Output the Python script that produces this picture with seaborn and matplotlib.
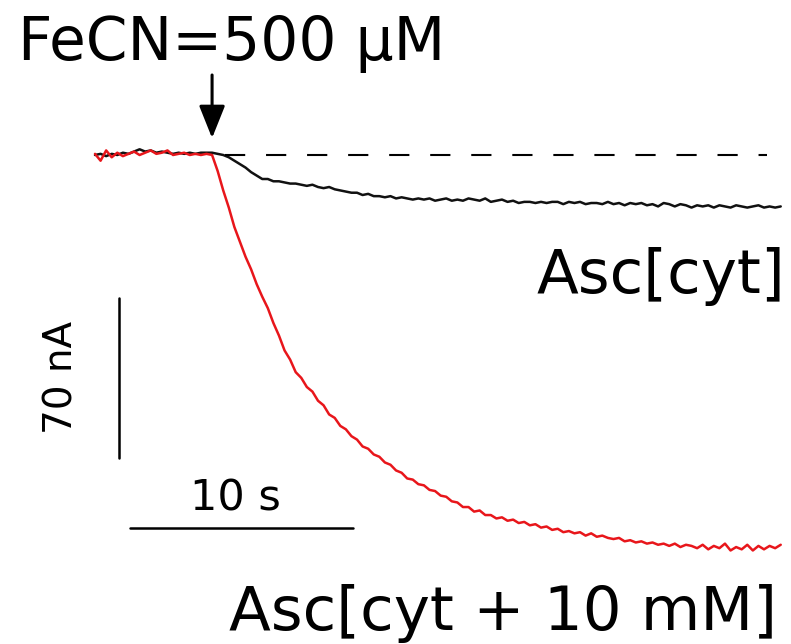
import numpy as np
import pandas as pd
import matplotlib
matplotlib.use("Agg")
import matplotlib.pyplot as plt
import seaborn as sns

# ---------------------------------------------------------------
# data (time in s, current in nA, 0 = baseline)
# ---------------------------------------------------------------
time_s = [
    0.0, 0.25, 0.5, 0.75, 1.0, 1.25, 1.5, 1.75,
    2.0, 2.25, 2.5, 2.75, 3.0, 3.25, 3.5, 3.75,
    4.0, 4.25, 4.5, 4.75, 5.0, 5.25, 5.5, 5.75,
    6.0, 6.25, 6.5, 6.75, 7.0, 7.25, 7.5, 7.75,
    8.0, 8.25, 8.5, 8.75, 9.0, 9.25, 9.5, 9.75,
    10.0, 10.25, 10.5, 10.75, 11.0, 11.25, 11.5, 11.75,
    12.0, 12.25, 12.5, 12.75, 13.0, 13.25, 13.5, 13.75,
    14.0, 14.25, 14.5, 14.75, 15.0, 15.25, 15.5, 15.75,
    16.0, 16.25, 16.5, 16.75, 17.0, 17.25, 17.5, 17.75,
    18.0, 18.25, 18.5, 18.75, 19.0, 19.25, 19.5, 19.75,
    20.0, 20.25, 20.5, 20.75, 21.0, 21.25, 21.5, 21.75,
    22.0, 22.25, 22.5, 22.75, 23.0, 23.25, 23.5, 23.75,
    24.0, 24.25, 24.5, 24.75, 25.0, 25.25, 25.5, 25.75,
    26.0, 26.25, 26.5, 26.75, 27.0, 27.25, 27.5, 27.75,
    28.0, 28.25, 28.5, 28.75, 29.0, 29.25, 29.5, 29.75,
    30.0, 30.25, 30.5, 30.75,
]

# Asc[cyt] (black trace)
current_cyt = [
    0.0, 0.5, -0.5, 0.5, 0.0, 1.0, 0.5, 1.5,
    2.5, 1.5, 2.0, 1.0, 1.5, 1.0, 0.5, 1.0,
    0.5, 1.0, 0.5, 1.0, 1.0, 1.0, 0.5, 0.0,
    -1.0, -2.5, -4.0, -5.5, -7.5, -9.0, -10.5, -10.5,
    -11.5, -11.5, -12.0, -12.5, -12.5, -13.0, -13.5, -13.0,
    -14.0, -14.5, -14.0, -15.0, -15.5, -16.0, -16.5, -16.5,
    -17.5, -17.0, -18.0, -18.0, -18.5, -18.0, -19.0, -18.5,
    -19.0, -19.5, -19.0, -19.5, -19.0, -20.0, -19.5, -19.0,
    -20.0, -19.5, -20.0, -19.0, -19.5, -20.0, -19.0, -20.5,
    -20.0, -19.5, -20.5, -20.0, -21.0, -20.5, -20.5, -21.0,
    -20.5, -21.0, -20.5, -20.5, -21.5, -20.5, -21.0, -20.5,
    -21.5, -21.0, -21.0, -21.5, -20.5, -21.5, -21.0, -22.0,
    -21.0, -21.5, -21.0, -22.0, -21.5, -22.5, -21.0, -21.5,
    -22.5, -21.5, -22.0, -23.0, -22.0, -22.5, -22.0, -23.0,
    -22.0, -22.5, -23.0, -22.0, -22.5, -23.0, -22.5, -22.0,
    -23.0, -22.5, -23.0, -22.5,
]

# Asc[cyt + 10 mM] (red trace)
current_cyt_10mM = [
    0.5, -2.5, 2.0, -1.0, 1.0, -0.5, 0.5, 1.5,
    0.0, 1.0, 2.0, 0.5, 1.0, 2.0, 0.0, 0.5,
    1.0, 0.0, 0.5, 0.0, 0.5, 0.0, -7.0, -15.5,
    -23.0, -31.5, -38.0, -44.5, -50.0, -56.5, -62.0, -67.0,
    -73.5, -79.0, -85.5, -89.5, -95.0, -97.5, -101.5, -103.5,
    -107.5, -109.5, -113.5, -115.0, -118.5, -120.0, -123.0, -124.5,
    -127.5, -128.5, -131.0, -132.0, -134.5, -135.5, -138.0, -139.0,
    -141.5, -142.0, -144.0, -144.5, -146.5, -147.0, -149.0, -149.5,
    -151.5, -152.0, -154.0, -154.0, -156.0, -155.5, -157.5, -157.5,
    -159.0, -158.5, -160.0, -159.5, -161.0, -160.5, -162.0, -161.5,
    -163.0, -162.5, -164.0, -163.5, -165.0, -164.5, -165.5, -165.0,
    -166.5, -165.5, -167.0, -166.5, -167.5, -168.0, -167.5, -169.0,
    -168.5, -169.5, -169.0, -170.0, -169.5, -170.5, -170.0, -171.0,
    -170.0, -171.5, -170.5, -171.0, -172.0, -170.5, -172.5, -171.0,
    -172.0, -170.0, -173.0, -171.5, -172.5, -170.5, -173.0, -171.0,
    -172.5, -171.0, -172.0, -170.5,
]

trace_names = ["Asc[cyt]", "Asc[cyt + 10 mM]"]
trace_colors = ["#111111", "#e8161b"]

injection_time = 5.25      # FeCN added here (s)
scalebar_time = 10         # s
scalebar_current = 70      # nA

df = pd.DataFrame({
    "time": time_s * 2,
    "current": current_cyt + current_cyt_10mM,
    "trace": [trace_names[0]] * len(time_s) + [trace_names[1]] * len(time_s),
})

# ---------------------------------------------------------------
# figure: no axes, scale bars instead
# ---------------------------------------------------------------
sns.set_style("white")
plt.rcParams["font.family"] = ["DejaVu Sans"]
plt.rcParams["text.color"] = "black"

fig = plt.figure(figsize=(7.91, 6.44), dpi=100)
ax = fig.add_axes([0, 0, 1, 1])

sns.lineplot(
    data=df, x="time", y="current", hue="trace",
    hue_order=trace_names, palette=trace_colors,
    estimator=None, sort=False, legend=False,
    linewidth=1.8, ax=ax,
)

# baseline reference (dashed)
ax.plot([5.83, 30.13], [0, 0], color="black", lw=1.5,
        linestyle=(0, (9.7, 10.0)))

# FeCN arrow + label
ax.annotate("", xy=(injection_time, 7.4), xytext=(injection_time, 35),
            arrowprops=dict(arrowstyle="-|>,head_length=1.0,head_width=0.4",
                            mutation_scale=20, lw=2.2, color="black",
                            shrinkA=0, shrinkB=0))
ax.text(-3.45, 41.5, "FeCN=500 \u03bcM", fontsize=43, ha="left", va="baseline",
        color="black")

# trace labels
ax.text(30.95, -60.4, trace_names[0], fontsize=44, ha="right", va="baseline",
        color="black")
ax.text(30.6, -208.0, trace_names[1], fontsize=44, ha="right", va="baseline",
        color="black")

# scale bars
ax.plot([1.08, 1.08], [-62.6, -62.6 - scalebar_current], color="black", lw=1.8)
ax.text(-1.48, -97.1, f"{scalebar_current} nA", fontsize=28, rotation=90,
        ha="center", va="center", color="black")
ax.plot([1.57, 1.57 + scalebar_time], [-163.2, -163.2], color="black", lw=1.8)
ax.text(6.28, -155.3, f"{scalebar_time} s", fontsize=31, ha="center", va="baseline",
        color="black")

ax.set_xlim(-95 / 22.3, 696 / 22.3)
ax.set_ylim(-489 / 2.286, 155 / 2.286)
ax.axis("off")

fig.savefig("out.png", dpi=100, facecolor="white")
